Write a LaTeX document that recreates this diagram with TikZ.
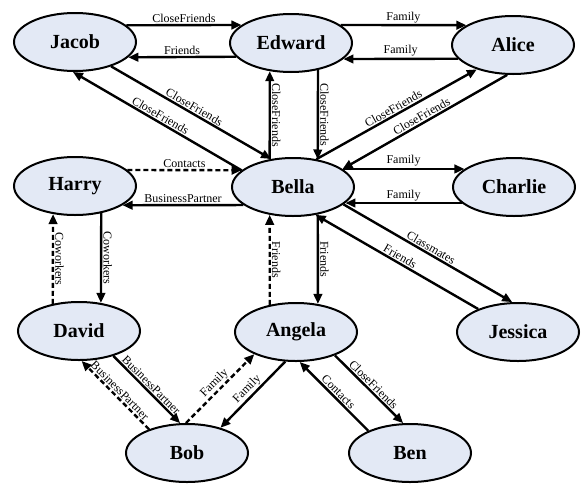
\documentclass[tikz,border=0pt]{standalone}
\usepackage{fontspec}
\setmainfont{Liberation Serif}
\usetikzlibrary{shapes.geometric,arrows.meta}
\definecolor{nodefill}{RGB}{227,233,245}
\begin{document}
\begin{tikzpicture}[x=1pt,y=-1pt,
  person/.style={ellipse, draw=black, line width=2pt, fill=nodefill,
    minimum width=122pt, minimum height=58pt, inner sep=0pt,
    font=\fontsize{20}{24}\selectfont\bfseries},
  rel/.style={line width=2.4pt, -{Triangle[length=10pt,width=8.5pt]}},
  dsh/.style={dash pattern=on 5pt off 3pt},
  lbl/.style={font=\fontsize{12}{14}\selectfont, inner sep=1.2pt, midway},
  vlbl/.style={lbl, rotate=-90, above},
  slbl/.style={lbl, sloped, above}]
\useasboundingbox (0,0) rectangle (581,485);
% nodes
\node[person] (jacob)   at (75,42)  {Jacob};
\node[person] (edward)  at (291,43) {Edward};
\node[person] (alice)   at (513,45) {Alice};
\node[person] (harry)   at (75,186) {Harry};
\node[person] (bella)   at (293,187) {Bella};
\node[person] (charlie) at (514,187) {Charlie};
\node[person] (david)   at (79,331) {David};
\node[person] (angela)  at (296,332) {Angela};
\node[person] (jessica) at (518,332) {Jessica};
\node[person] (bob)     at (187,453) {Bob};
\node[person] (ben)     at (410,453) {Ben};
% row 1
\draw[rel] (jacob.18) -- node[lbl,above]{CloseFriends} (edward.160);
\draw[rel] (edward.194) -- node[lbl,above]{Friends} (jacob.-16);
\draw[rel] (edward.20) -- node[lbl,above]{Family} (alice.157);
\draw[rel] (alice.194) -- node[lbl,above]{Family} (edward.-17);
% row 2
\draw[rel,dsh] (harry.17) -- node[lbl,above]{Contacts} (bella.162);
\draw[rel] (bella.200) -- node[lbl,above]{BusinessPartner} (harry.-22);
\draw[rel] (bella.20) -- node[lbl,above]{Family} (charlie.160);
\draw[rel] (charlie.197) -- node[lbl,above]{Family} (bella.-17);
% vertical
\draw[rel] (bella.130) -- node[vlbl]{CloseFriends} (edward.233);
\draw[rel] (edward.-45) -- node[vlbl]{CloseFriends} (bella.48);
\draw[rel] (harry.-46) -- node[vlbl]{Coworkers} (david.52);
\draw[rel,dsh] (david.134) -- node[vlbl]{Coworkers} (harry.232);
\draw[rel,dsh] (angela.134) -- node[vlbl]{Friends} (bella.230);
\draw[rel] (bella.-48) -- node[vlbl]{Friends} (angela.52);
% diagonals
\draw[rel] (jacob.-34) -- node[slbl]{CloseFriends} (bella.128);
\draw[rel] (bella.162) -- node[slbl]{CloseFriends} (jacob.-94);
\draw[rel] (bella.50) -- node[slbl]{CloseFriends} (alice.214);
\draw[rel] (alice.-101) -- node[slbl]{CloseFriends} (bella.20);
\draw[rel] (bella.-19) -- node[slbl]{Classmates} (jessica.101);
\draw[rel] (jessica.150) -- node[slbl]{Friends} (bella.-51);
\draw[rel] (david.-36) -- node[slbl]{BusinessPartner} (bob.103);
\draw[rel,dsh] (bob.148) -- node[slbl]{BusinessPartner} (david.-85);
\draw[rel,dsh] (bob.92) -- node[slbl]{Family} (angela.208);
\draw[rel] (angela.-110) -- node[slbl]{Family} (bob.37);
\draw[rel] (angela.-31) -- node[slbl]{CloseFriends} (ben.103);
\draw[rel] (ben.152) -- node[slbl]{Contacts} (angela.-83);
\end{tikzpicture}
\end{document}
